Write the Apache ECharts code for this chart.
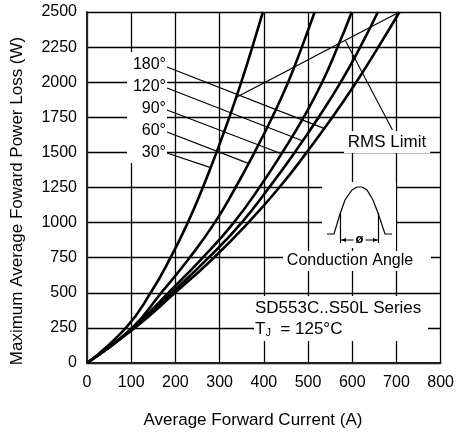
<!DOCTYPE html>
<html><head><meta charset="utf-8">
<script src="https://cdn.jsdelivr.net/npm/echarts@6/dist/echarts.min.js"></script>
<style>html,body{margin:0;padding:0;background:#fff}#c{width:457px;height:434px}</style>
</head><body><div id="c"></div>
<script>
// ---- data ----
const powerLevels = [0, 250, 500, 750, 1000, 1250, 1500, 1750, 2000, 2250, 2500];
const current30  = [0, 88, 144, 189, 228, 262, 293, 322, 349, 374, 398];
const current60  = [0, 102, 168, 232, 289, 336, 379, 419, 455, 486, 515];
const current90  = [0, 104, 184, 262, 332, 390, 442, 490, 532, 567, 599];
const current120 = [0, 106, 192, 275, 350, 412, 470, 524, 574, 618, 658];
const current180 = [0, 108, 199, 287, 365, 435, 497, 555, 609, 659, 707];
const rmsLimitCurrent = [339, 453, 567, 707];
const rmsLimitPower   = [1894, 2082, 2270, 2500];
const angleLabels = ['180°', '120°', '90°', '60°', '30°'];
// leader lines (annotation) from label column to each curve, data units
const leaderStartCurrent = [181, 181, 181, 181, 181];
const leaderStartPower   = [2108, 1959, 1802, 1645, 1496];
const leaderEndCurrent   = [536, 487, 437, 365, 278];
const leaderEndPower     = [1671, 1583, 1494, 1422, 1393];
const rmsLeaderCurrent = [691, 585];
const rmsLeaderPower   = [1660, 2293];
const xTicks = [0, 100, 200, 300, 400, 500, 600, 700, 800];
const yTicks = [0, 250, 500, 750, 1000, 1250, 1500, 1750, 2000, 2250, 2500];
const xTitle = 'Average Forward Current (A)';
const yTitle = 'Maximum Average Foward Power Loss (W)';
const seriesTitle = 'SD553C..S50L Series';

const FONT = '"Liberation Sans", Arial, sans-serif';
const chart = echarts.init(document.getElementById('c'), null, {renderer: 'canvas'});

function curve(xs) { return powerLevels.map((p, i) => [xs[i], p]); }
function mainLine(name, xs) {
  return { name, type: 'line', data: curve(xs), showSymbol: false, smooth: 0.5,
    lineStyle: { color: '#000', width: 2.6 }, z: 5, silent: true };
}
const leaderSeries = leaderStartCurrent.map((x, i) => ({
  type: 'line', showSymbol: false, silent: true, z: 4,
  data: [[x, leaderStartPower[i]], [leaderEndCurrent[i], leaderEndPower[i]]],
  lineStyle: { color: '#000', width: 1.2 }
}));

chart.setOption({
  animation: false,
  backgroundColor: '#fff',
  grid: { left: 87, right: 16, top: 12, bottom: 71, containLabel: false },
  xAxis: {
    type: 'value', min: xTicks[0], max: xTicks[xTicks.length - 1], interval: 100,
    axisLine: { show: true, lineStyle: { color: '#222', width: 2 } },
    axisTick: { show: false },
    axisLabel: { color: '#000', fontSize: 16, fontFamily: FONT, margin: 12, formatter: v => String(v) },
    splitLine: { show: true, showMinLine: true, showMaxLine: true, lineStyle: { color: '#000', width: 1.3 } }
  },
  yAxis: {
    type: 'value', min: yTicks[0], max: yTicks[yTicks.length - 1], interval: 250,
    axisLine: { show: true, lineStyle: { color: '#222', width: 2 } },
    axisTick: { show: false },
    axisLabel: { color: '#000', fontSize: 16, fontFamily: FONT, margin: 10, formatter: v => String(v) },
    splitLine: { show: true, showMinLine: true, showMaxLine: true, lineStyle: { color: '#000', width: 1.3 } }
  },
  series: [
    mainLine('30°', current30),
    mainLine('60°', current60),
    mainLine('90°', current90),
    mainLine('120°', current120),
    mainLine('180°', current180),
    { name: 'RMS Limit', type: 'line', showSymbol: false, silent: true, z: 4,
      data: rmsLimitCurrent.map((x, i) => [x, rmsLimitPower[i]]),
      lineStyle: { color: '#000', width: 1.2 } },
    { type: 'line', showSymbol: false, silent: true, z: 4,
      data: rmsLeaderCurrent.map((x, i) => [x, rmsLeaderPower[i]]),
      lineStyle: { color: '#000', width: 1.1 } },
    ...leaderSeries
  ],
  graphic: [
    // axis titles
    { type: 'text', x: 253, y: 420, z: 10, style: { text: xTitle, fill: '#000', font: '17px ' + FONT, align: 'center', verticalAlign: 'middle' } },
    { type: 'text', x: 17, y: 201, rotation: Math.PI / 2, z: 10, style: { text: yTitle, fill: '#000', font: '17px ' + FONT, align: 'center', verticalAlign: 'middle' } },
    // angle label column
    { type: 'rect', shape: { x: 127, y: 52, width: 40, height: 111 }, style: { fill: '#fff' }, z: 8 },
    { type: 'text', x: 166, y: 54, z: 9, style: { text: angleLabels.join('\n'), fill: '#000', font: '16px ' + FONT, align: 'right', verticalAlign: 'top', lineHeight: 21.8 } },
    // RMS Limit label
    { type: 'rect', shape: { x: 344, y: 131, width: 86, height: 22 }, style: { fill: '#fff' }, z: 8 },
    { type: 'text', x: 387, y: 142, z: 9, style: { text: 'RMS Limit', fill: '#000', font: '17px ' + FONT, align: 'center', verticalAlign: 'middle' } },
    // conduction angle icon
    { type: 'rect', shape: { x: 322, y: 182, width: 74, height: 66 }, style: { fill: '#fff' }, z: 8 },
    { type: 'polyline', z: 9, shape: { points: [[327,234],[334,234],[340,214],[345,200],[352,190],[357,187],[362,187],[367,190],[373,200],[378,213],[385,234],[392,234]] }, style: { stroke: '#000', lineWidth: 1.2, fill: null } },
    { type: 'line', z: 9, shape: { x1: 340.5, y1: 213, x2: 340.5, y2: 243 }, style: { stroke: '#000', lineWidth: 1.2 } },
    { type: 'line', z: 9, shape: { x1: 378.5, y1: 213, x2: 378.5, y2: 243 }, style: { stroke: '#000', lineWidth: 1.2 } },
    { type: 'line', z: 9, shape: { x1: 341, y1: 240, x2: 378, y2: 240 }, style: { stroke: '#000', lineWidth: 1 } },
    { type: 'polygon', z: 9, shape: { points: [[341,240],[346,238],[346,242]] }, style: { fill: '#000' } },
    { type: 'polygon', z: 9, shape: { points: [[378,240],[373,238],[373,242]] }, style: { fill: '#000' } },
    { type: 'text', x: 359.5, y: 239, z: 10, style: { text: 'ø', fill: '#000', font: 'bold 13px ' + FONT, align: 'center', verticalAlign: 'middle', backgroundColor: '#fff', padding: [0, 2] } },
    // Conduction Angle text
    { type: 'rect', shape: { x: 283, y: 251, width: 148, height: 20 }, style: { fill: '#fff' }, z: 8 },
    { type: 'text', x: 350, y: 261, z: 9, style: { text: 'Conduction Angle', fill: '#000', font: '16px ' + FONT, align: 'center', verticalAlign: 'middle' } },
    // series / temperature note
    { type: 'rect', shape: { x: 254, y: 296, width: 174, height: 45 }, style: { fill: '#fff' }, z: 8 },
    { type: 'text', x: 255, y: 308, z: 9, style: { text: seriesTitle, fill: '#000', font: '17px ' + FONT, align: 'left', verticalAlign: 'middle' } },
    { type: 'text', x: 255, y: 329, z: 9, style: {
        text: 'T{sub|J}  = 125°C', fill: '#000', font: '17px ' + FONT, align: 'left', verticalAlign: 'middle',
        rich: { sub: { fontSize: 11, fontFamily: FONT, verticalAlign: 'bottom', padding: [8, 0, 0, 0] } } } }
  ]
});
</script>
</body></html>
